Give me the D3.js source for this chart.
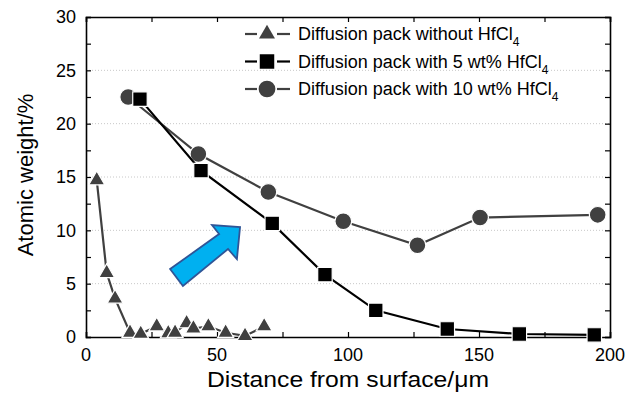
<!DOCTYPE html>
<html>
<head>
<meta charset="utf-8">
<script src="https://cdn.jsdelivr.net/npm/d3@7"></script>
<style>
  body { margin: 0; background: #fff; }
  svg text { font-family: "Liberation Sans", Arial, sans-serif; fill: #000; }
</style>
</head>
<body>
<svg id="chart" width="638" height="393"></svg>
<script>
// data (x = distance in um, y = atomic weight %)
var noHfX = [4.1, 7.9, 11.1, 16.8, 20.9, 27, 31.4, 34, 38.4, 41, 46.7, 53.3, 60.7, 68]
var noHfY = [14.7, 6.0, 3.6, 0.4, 0.3, 1.0, 0.35, 0.4, 1.3, 0.8, 1.0, 0.4, 0.1, 1.0]

var hf5X = [20.6, 43.9, 71.1, 91.2, 110.6, 137.9, 165.4, 194]
var hf5Y = [22.3, 15.6, 10.65, 5.85, 2.5, 0.75, 0.28, 0.19]

var hf10X = [16.1, 42.9, 69.6, 98.2, 126.5, 150.4, 195.3]
var hf10Y = [22.5, 17.15, 13.6, 10.85, 8.6, 11.2, 11.45]

var xTicks = [0, 50, 100, 150, 200]
var yTicks = [0, 5, 10, 15, 20, 25, 30]
var gridY = [5, 10, 15, 20, 25]

var legendNames = ["Diffusion pack without HfCl", "Diffusion pack with 5 wt% HfCl", "Diffusion pack with 10 wt% HfCl"]

// blue arrow outline, in data units
var arrowX = [32.1, 50.8, 48.1, 58.8, 57.6, 54.2, 37.0]
var arrowY = [6.37, 9.65, 10.5, 10.31, 7.31, 8.25, 4.78]

var margin = {top: 17, right: 28, bottom: 56, left: 86}
var width = 638 - margin.left - margin.right
var height = 393 - margin.top - margin.bottom

var svg = d3.select("#chart")
var g = svg.append("g").attr("transform", "translate(" + margin.left + "," + margin.top + ")")

var x = d3.scaleLinear().domain([0, 200]).range([0, width])
var y = d3.scaleLinear().domain([0, 30]).range([height, 0])

//gridlines
g.selectAll("line.grid")
  .data(gridY)
  .enter().append("line")
  .attr("class", "grid")
  .attr("x1", 0).attr("x2", width)
  .attr("y1", d => y(d)).attr("y2", d => y(d))
  .style("stroke", "#c8c8c8")
  .style("stroke-width", 1)
  .style("stroke-dasharray", "1,2")

// axes, ticks inward on all four sides
var minorX = d3.range(0, 201, 25)
var minorY = d3.range(0, 30.1, 2.5)

g.append("g").attr("transform", "translate(0," + height + ")")
  .call(d3.axisBottom(x).tickValues(minorX).tickSize(-5).tickFormat(""))
g.append("g")
  .call(d3.axisTop(x).tickValues(minorX).tickSize(-5).tickFormat(""))
g.append("g")
  .call(d3.axisLeft(y).tickValues(minorY).tickSize(-5).tickFormat(""))
g.append("g").attr("transform", "translate(" + width + ",0)")
  .call(d3.axisRight(y).tickValues(minorY).tickSize(-5).tickFormat(""))

g.selectAll(".domain").style("stroke", "#000").style("stroke-width", 1.6)
g.selectAll(".tick line").style("stroke", "#000").style("stroke-width", 1.2)

// tick labels
g.selectAll("text.xlab")
  .data(xTicks)
  .enter().append("text")
  .attr("class", "xlab")
  .attr("x", d => x(d))
  .attr("y", height + 24)
  .attr("text-anchor", "middle")
  .style("font-size", "18px")
  .text(d => d)

g.selectAll("text.ylab")
  .data(yTicks)
  .enter().append("text")
  .attr("class", "ylab")
  .attr("x", -10)
  .attr("y", d => y(d))
  .attr("dy", "0.36em")
  .attr("text-anchor", "end")
  .style("font-size", "18px")
  .text(d => d)

// axis titles
svg.append("text")
  .attr("x", margin.left + width / 2)
  .attr("y", 387)
  .attr("text-anchor", "middle")
  .attr("textLength", 282)
  .attr("lengthAdjust", "spacingAndGlyphs")
  .style("font-size", "22px")
  .text("Distance from surface/\u03bcm")

svg.append("text")
  .attr("transform", "translate(33,175) rotate(-90)")
  .attr("text-anchor", "middle")
  .style("font-size", "22px")
  .text("Atomic weight/%")

// arrow
var arrowPts = arrowX.map((d, i) => [x(d), y(arrowY[i])])
g.append("polygon")
  .attr("points", arrowPts.map(p => p.join(",")).join(" "))
  .style("fill", "#00b0f0")
  .style("stroke", "#2f5597")
  .style("stroke-width", 1.8)
  .style("stroke-linejoin", "miter")

var line = d3.line().x(d => x(d[0])).y(d => y(d[1]))

function zip(a, b){ return a.map((d, i) => [d, b[i]]) }

var series = [
  {pts: zip(hf10X, hf10Y), color: "#404040", shape: d3.symbolCircle, size: 220},
  {pts: zip(hf5X, hf5Y), color: "#000000", shape: d3.symbolSquare, size: 210},
  {pts: zip(noHfX, noHfY), color: "#404040", shape: d3.symbolTriangle, size: 110}
]

series.forEach(function(s){
  g.append("path")
    .datum(s.pts)
    .attr("d", line)
    .style("fill", "none")
    .style("stroke", s.color)
    .style("stroke-width", 2.2)

  g.selectAll(null)
    .data(s.pts)
    .enter().append("path")
    .attr("transform", d => "translate(" + x(d[0]) + "," + y(d[1]) + ")")
    .attr("d", d3.symbol().type(s.shape).size(s.size))
    .style("fill", s.color)
    .style("stroke", "#fff")
    .style("stroke-width", 1.2)
})

// legend
var legendStyle = [series[2], series[1], series[0]]
var lg = svg.append("g").attr("transform", "translate(245,34)")
legendNames.forEach(function(name, i){
  var row = lg.append("g").attr("transform", "translate(0," + i * 27.5 + ")")
  var s = legendStyle[i]
  row.append("line").attr("x1", 0).attr("x2", 12).attr("y1", 0).attr("y2", 0)
    .style("stroke", s.color).style("stroke-width", 2.2)
  row.append("line").attr("x1", 32).attr("x2", 45).attr("y1", 0).attr("y2", 0)
    .style("stroke", s.color).style("stroke-width", 2.2)
  row.append("path")
    .attr("transform", "translate(22,0)")
    .attr("d", d3.symbol().type(s.shape).size(s.size))
    .style("fill", s.color)
  var t = row.append("text")
    .attr("x", 53)
    .attr("y", 0)
    .attr("dy", "0.35em")
    .style("font-size", "18px")
  t.append("tspan").text(name)
  t.append("tspan").attr("dy", "6").style("font-size", "12px").text("4")
})
</script>
</body>
</html>
